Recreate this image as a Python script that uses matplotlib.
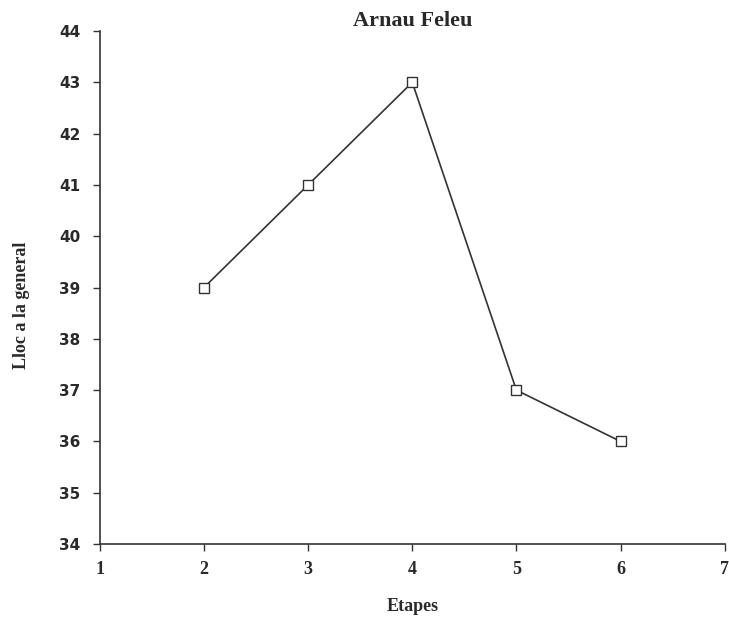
import matplotlib
matplotlib.use("Agg")
import matplotlib.pyplot as plt

etapes = [2, 3, 4, 5, 6]
lloc = [39, 41, 43, 37, 36]
x_ticks = [1, 2, 3, 4, 5, 6, 7]
y_ticks = [34, 35, 36, 37, 38, 39, 40, 41, 42, 43, 44]

fig = plt.figure(figsize=(7.29, 6.21), dpi=100)
ax = fig.add_axes([0.137, 0.124, 0.857, 0.826])
col = "#333333"
txt = "#2a2a2a"
ax.plot(etapes, lloc, color=col, lw=1.2, marker="s", markersize=6.5,
        markerfacecolor="white", markeredgecolor=col, markeredgewidth=1.0)
ax.set_xlim(1, 7)
ax.set_ylim(34, 44)
ax.set_xticks(x_ticks)
ax.set_yticks(y_ticks)
for s in ["top", "right"]:
    ax.spines[s].set_visible(False)
for s in ["left", "bottom"]:
    ax.spines[s].set_color(col)
    ax.spines[s].set_linewidth(1.2)
ax.tick_params(axis="both", direction="out", length=5, width=1.0, color=col)
ax.tick_params(axis="y", pad=9)
ax.tick_params(axis="x", pad=7)
ax.set_yticklabels([str(v) for v in y_ticks], fontfamily="DejaVu Sans",
                   fontweight="bold", fontsize=11, color=txt)
ax.set_xticklabels([str(v) for v in x_ticks], fontfamily="Liberation Serif",
                   fontweight="bold", fontsize=13, color=txt)
ax.set_title("Arnau Feleu", fontfamily="Liberation Serif", fontweight="bold",
             fontsize=16, color=txt, pad=1)
ax.set_xlabel("Etapes", fontfamily="Liberation Serif", fontweight="bold",
              fontsize=13, color=txt)
ax.xaxis.set_label_coords(0.5, -0.105)
ax.set_ylabel("Lloc a la general", fontfamily="Liberation Serif", fontweight="bold",
              fontsize=13, color=txt)
ax.yaxis.set_label_coords(-0.112, 0.466)
fig.savefig("out.png", dpi=100)
